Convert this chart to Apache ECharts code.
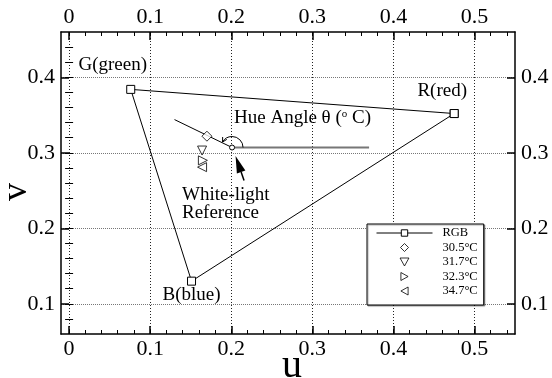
<!DOCTYPE html>
<html><head><meta charset="utf-8">
<script src="https://cdn.jsdelivr.net/npm/echarts@6/dist/echarts.min.js"></script>
<style>html,body{margin:0;padding:0;background:#fff}#c{width:552px;height:378px}</style>
</head><body><div id="c"></div>
<script>
// ---- data ----
const rgbNames = ['R(red)', 'G(green)', 'B(blue)', ''];
const rgbU = [0.475, 0.076, 0.151, 0.475];
const rgbV = [0.352, 0.384, 0.130, 0.352];
const tempNames = ['30.5°C', '31.7°C', '32.3°C', '34.7°C'];
const tempU = [0.170, 0.164, 0.165, 0.164];
const tempV = [0.322, 0.303, 0.290, 0.281];
const whiteU = [0.201];
const whiteV = [0.307];
const refLineU = [0.201, 0.370];
const refLineV = [0.307, 0.307];
const hueLineU = [0.130, 0.201];
const hueLineV = [0.344, 0.307];
const xMajor = [0, 0.1, 0.2, 0.3, 0.4, 0.5];
const xMinor = [0, 0.02, 0.04, 0.06, 0.08, 0.1, 0.12, 0.14, 0.16, 0.18, 0.2, 0.22, 0.24, 0.26, 0.28, 0.3, 0.32, 0.34, 0.36, 0.38, 0.4, 0.42, 0.44, 0.46, 0.48, 0.5, 0.52, 0.54];
const yMajor = [0.1, 0.2, 0.3, 0.4];
const yMinor = [0.08, 0.1, 0.12, 0.14, 0.16, 0.18, 0.2, 0.22, 0.24, 0.26, 0.28, 0.3, 0.32, 0.34, 0.36, 0.38, 0.4, 0.42, 0.44];
const X_MIN = -0.01, X_MAX = 0.55, Y_MIN = 0.06, Y_MAX = 0.46;

const FONT = 'Liberation Serif';
const zip = (a, b) => a.map((v, i) => [v, b[i]]);

function majorAxis(pos, min, max, vals, isX, grid) {
  return {
    type: 'value', position: pos, min: min, max: max,
    axisLine: { show: true, onZero: false, lineStyle: { color: '#000', width: 1.5 } },
    axisTick: { show: true, inside: true, length: 8, customValues: vals, lineStyle: { color: '#000', width: 1.5 } },
    axisLabel: { show: true, customValues: vals, color: '#000', fontFamily: FONT, fontSize: 22, margin: isX ? 4 : 6,
      formatter: v => String(v) },
    splitLine: { show: grid, lineStyle: isX ? { color: '#222', type: [1, 2], width: 1 } : { color: '#777', type: [1, 1], width: 1 } }
  };
}
function minorAxis(pos, min, max, vals) {
  return {
    type: 'value', position: pos, min: min, max: max,
    axisLine: { show: false },
    axisTick: { show: true, inside: true, length: 4, customValues: vals, lineStyle: { color: '#000', width: 1 } },
    axisLabel: { show: false },
    splitLine: { show: false }
  };
}

const hollow = { color: '#fff', borderColor: '#000', borderWidth: 1 };
const tempSymbols = [
  'path://M5,0 L10,5 L5,10 L0,5 Z',
  'path://M0,0 L10,0 L5,9 Z',
  'path://M0,0 L9,5 L0,10 Z',
  'path://M9,0 L0,5 L9,10 Z'
];
const tempSizes = [10, 9, 9, 9];

const rgbLabelOffsets = [[-12, -23], [-18, -24], [0, 14], [0, 0]];

const series = [];
series.push({
  name: 'RGB', type: 'line', xAxisIndex: 0, yAxisIndex: 0, z: 5,
  data: zip(rgbU, rgbV).map((p, i) => ({
    value: p, name: rgbNames[i],
    label: { show: rgbNames[i] !== '', position: 'inside', offset: rgbLabelOffsets[i], formatter: rgbNames[i],
      color: '#000', fontFamily: FONT, fontSize: 19 }
  })),
  symbol: 'rect', symbolSize: 8, showAllSymbol: true,
  itemStyle: hollow, lineStyle: { color: '#000', width: 1 }, animation: false
});
tempNames.forEach((n, i) => {
  series.push({
    name: n, type: 'scatter', xAxisIndex: 0, yAxisIndex: 0, z: 6,
    data: [[tempU[i], tempV[i]]], symbol: tempSymbols[i], symbolSize: tempSizes[i],
    itemStyle: hollow, animation: false
  });
});
series.push({
  name: 'ref', type: 'line', xAxisIndex: 0, yAxisIndex: 0, z: 3,
  data: zip(refLineU, refLineV), symbol: 'none',
  lineStyle: { color: '#777', width: 2 }, animation: false
});
series.push({
  name: 'hue', type: 'line', xAxisIndex: 0, yAxisIndex: 0, z: 3,
  data: zip(hueLineU, hueLineV), symbol: 'none',
  lineStyle: { color: '#000', width: 1 }, animation: false
});
series.push({
  name: 'white', type: 'custom', xAxisIndex: 0, yAxisIndex: 0, z: 7,
  data: zip(whiteU, whiteV), animation: false,
  renderItem: function (params, api) {
    const c = api.coord([api.value(0), api.value(1)]);
    const r = 11, endA = -5 * Math.PI / 6;
    const ex = c[0] + r * Math.cos(endA), ey = c[1] + r * Math.sin(endA);
    const tx = Math.sin(endA), ty = -Math.cos(endA);
    const back = [-tx, -ty];
    const wing = (ang) => {
      const ca = Math.cos(ang), sa = Math.sin(ang);
      return [ex + 5 * (back[0] * ca - back[1] * sa), ey + 5 * (back[0] * sa + back[1] * ca)];
    };
    const tip = [c[0] + 3.5, c[1] + 8.5];
    const tail = [c[0] + 12, c[1] + 33];
    const dx = tail[0] - tip[0], dy = tail[1] - tip[1];
    const L = Math.sqrt(dx * dx + dy * dy), ux = dx / L, uy = dy / L;
    const hl = 17, hw = 4.5;
    const base = [tip[0] + ux * hl, tip[1] + uy * hl];
    const p1 = [base[0] - uy * hw, base[1] + ux * hw];
    const p2 = [base[0] + uy * hw, base[1] - ux * hw];
    return {
      type: 'group', children: [
        { type: 'arc', shape: { cx: c[0], cy: c[1], r: r, startAngle: 0, endAngle: endA, clockwise: false },
          style: { stroke: '#000', lineWidth: 1, fill: null } },
        { type: 'polyline', shape: { points: [wing(0.5), [ex, ey], wing(-0.5)] }, style: { stroke: '#000', lineWidth: 1, fill: null } },
        { type: 'circle', shape: { cx: c[0], cy: c[1], r: 2.5 }, style: { stroke: '#000', lineWidth: 1, fill: '#fff' } },
        { type: 'line', shape: { x1: base[0], y1: base[1], x2: tail[0], y2: tail[1] }, style: { stroke: '#000', lineWidth: 1.5 } },
        { type: 'polygon', shape: { points: [tip, p1, p2] }, style: { fill: '#000' } }
      ]
    };
  }
});

const chart = echarts.init(document.getElementById('c'), null, { renderer: 'canvas' });
chart.setOption({
  backgroundColor: '#fff',
  animation: false,
  grid: { left: 61, right: 37, top: 32, bottom: 44, containLabel: false },
  xAxis: [
    majorAxis('bottom', X_MIN, X_MAX, xMajor, true, true),
    majorAxis('top', X_MIN, X_MAX, xMajor, true, false),
    minorAxis('bottom', X_MIN, X_MAX, xMinor),
    minorAxis('top', X_MIN, X_MAX, xMinor)
  ],
  yAxis: [
    majorAxis('left', Y_MIN, Y_MAX, yMajor, false, true),
    majorAxis('right', Y_MIN, Y_MAX, yMajor, false, false),
    minorAxis('left', Y_MIN, Y_MAX, yMinor),
    minorAxis('right', Y_MIN, Y_MAX, yMinor)
  ],
  legend: {
    data: ['RGB'].concat(tempNames), orient: 'vertical', left: 367, top: 224,
    backgroundColor: '#fff', borderColor: '#000', borderWidth: 1, borderRadius: 0,
    shadowColor: 'rgba(0,0,0,0.35)', shadowOffsetX: 1, shadowOffsetY: 1, shadowBlur: 1,
    padding: [2, 6, 7, 9], itemWidth: 56, itemHeight: 8, itemGap: 0.5,
    itemStyle: { color: '#fff', borderColor: '#000', borderWidth: 1 },
    lineStyle: { color: '#000', width: 1 },
    textStyle: { fontFamily: FONT, fontSize: 12.5, color: '#000', lineHeight: 14, padding: [0, 0, 0, 5] },
    selectedMode: false
  },
  series: series,
  graphic: [
    { type: 'text', left: 234, top: 109, style: { text: 'Hue Angle θ ({s|o} C)', fontFamily: FONT, fontSize: 19, fill: '#000',
      rich: { s: { fontFamily: FONT, fontSize: 11, verticalAlign: 'top', padding: [0, 0, 8, 0] } } } },
    { type: 'text', left: 182, top: 186, style: { text: 'White-light', fontFamily: FONT, fontSize: 19, fill: '#000' } },
    { type: 'text', left: 182, top: 204, style: { text: 'Reference', fontFamily: FONT, fontSize: 19, fill: '#000' } },
    { type: 'text', x: 292, y: 366, style: { text: 'u', fontFamily: FONT, fontSize: 40, fill: '#000', align: 'center', verticalAlign: 'middle' } },
    { type: 'text', x: 17, y: 192, rotation: Math.PI / 2, style: { text: 'v', fontFamily: FONT, fontSize: 36, fill: '#000', align: 'center', verticalAlign: 'middle' } }
  ]
});
</script>
</body></html>
